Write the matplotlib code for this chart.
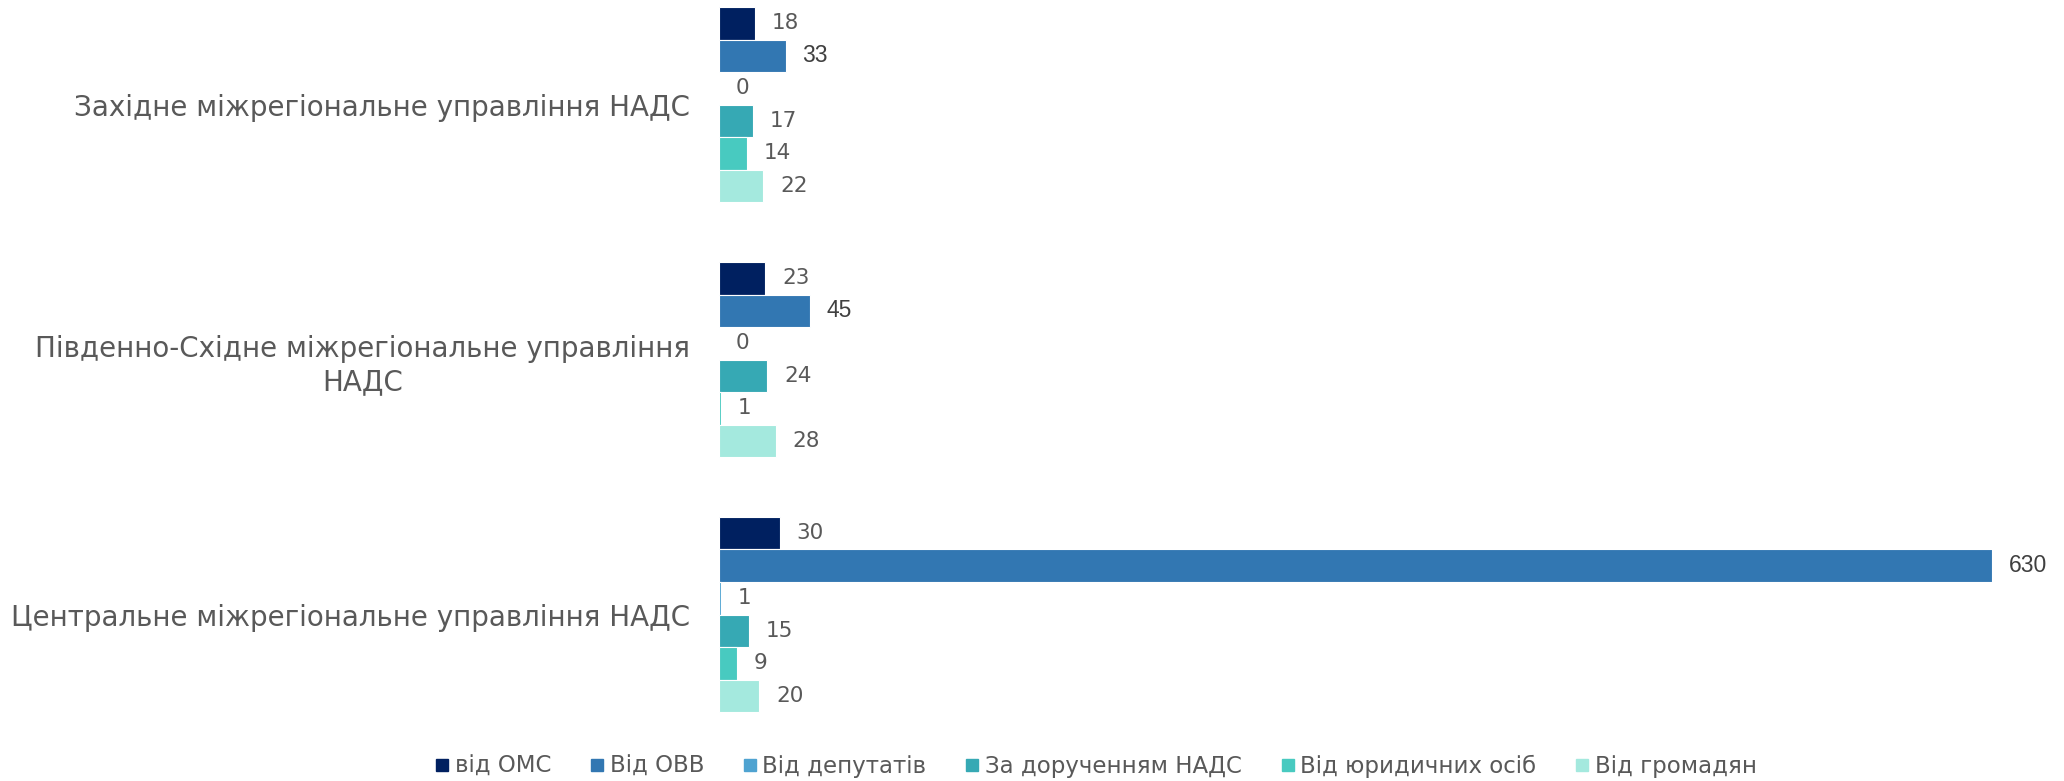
import matplotlib
matplotlib.use("Agg")
import matplotlib.pyplot as plt
from matplotlib.lines import Line2D
import numpy as np

categories = ["Центральне міжрегіональне управління НАДС",
              "Південно-Східне міжрегіональне управління\nНАДС",
              "Західне міжрегіональне управління НАДС"]
series_names = ["від ОМС", "Від ОВВ", "Від депутатів", "За дорученням НАДС",
                "Від юридичних осіб", "Від громадян"]
vid_oms = [30, 23, 18]
vid_ovv = [630, 45, 33]
vid_deputativ = [1, 0, 0]
za_doruchennyam = [15, 24, 17]
vid_yurydychnykh = [9, 1, 14]
vid_hromadyan = [20, 28, 22]
series_values = [vid_oms, vid_ovv, vid_deputativ, za_doruchennyam,
                 vid_yurydychnykh, vid_hromadyan]
colors = ["#002060", "#3277B2", "#4FA3D1", "#36A9B4", "#48CAC0", "#A4E9DE"]

W, H = 2064, 781
fig = plt.figure(figsize=(W / 100, H / 100), dpi=100)
ax = fig.add_axes([719 / W, 39 / H, (1992 - 719) / W, 1 - 39 / H])

n = len(series_names)
bh = 0.1275
y = np.arange(len(categories))
for i, (name, vals, c) in enumerate(zip(series_names, series_values, colors)):
    pos = y + (n / 2 - 0.5 - i) * bh
    ax.barh(pos, vals, height=bh, color=c, edgecolor="white", linewidth=0.8, label=name)
    for p, v in zip(pos, vals):
        if i == 1:
            ax.annotate(str(v), (v, p), xytext=(12, 0), textcoords="offset points",
                        ha="left", va="center", fontsize=16.5, color="#404040",
                        family="Liberation Sans")
        else:
            ax.annotate(str(v), (v, p), xytext=(12, 0), textcoords="offset points",
                        ha="left", va="center", fontsize=15.5, color="#595959",
                        family="DejaVu Sans")

ax.set_xlim(0, 630)
ax.set_ylim(-0.5, 2.41)
ax.set_yticks(y)
ax.set_yticklabels(categories, fontsize=20, color="#595959", linespacing=1.25)
for lab in ax.get_yticklabels():
    lab.set_horizontalalignment("right")
    lab.set_multialignment("center")
ax.tick_params(axis="y", length=0, pad=21)
ax.set_xticks([])
for s in ax.spines.values():
    s.set_visible(False)

handles = [Line2D([], [], marker="s", linestyle="none", markersize=9,
                  markerfacecolor=c, markeredgecolor=c) for c in colors]
fig.legend(handles, series_names, loc="center", bbox_to_anchor=(1096 / W, 1 - 766 / H),
           ncol=6, frameon=False, fontsize=16.5, labelcolor="#595959",
           handlelength=0.6, handletextpad=0.25, columnspacing=1.7)

fig.savefig("out.png", dpi=100)
